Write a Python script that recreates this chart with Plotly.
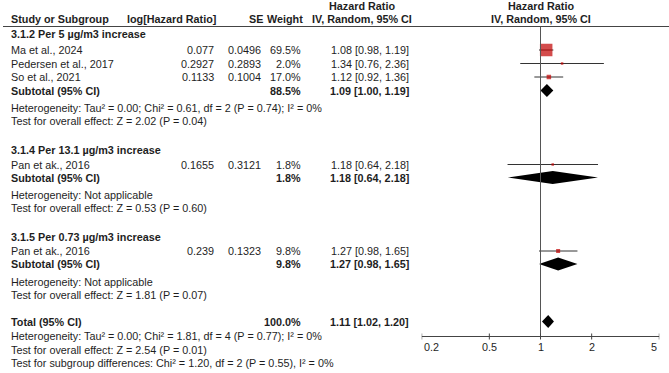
import math
import plotly.graph_objects as go

W, H = 669, 373

# ---------------- data ----------------
group_titles = ["3.1.2 Per 5 µg/m3 increase",
                "3.1.4 Per 13.1 µg/m3 increase",
                "3.1.5 Per 0.73 µg/m3 increase"]
study_names = ["Ma et al., 2024", "Pedersen et al., 2017", "So et al., 2021",
               "Pan et ak., 2016", "Pan et ak., 2016"]
study_group = [0, 0, 0, 1, 2]
log_hr = ["0.077", "0.2927", "0.1133", "0.1655", "0.239"]
se_vals = ["0.0496", "0.2893", "0.1004", "0.3121", "0.1323"]
weights = [69.5, 2.0, 17.0, 1.8, 9.8]
hr = [1.08, 1.34, 1.12, 1.18, 1.27]
hr_lo = [0.98, 0.76, 0.92, 0.64, 0.98]
hr_hi = [1.19, 2.36, 1.36, 2.18, 1.65]

sub_weights = [88.5, 1.8, 9.8]
sub_hr = [1.09, 1.18, 1.27]
sub_lo = [1.00, 0.64, 0.98]
sub_hi = [1.19, 2.18, 1.65]
sub_het = ["Heterogeneity: Tau² = 0.00; Chi² = 0.61, df = 2 (P = 0.74); I² = 0%",
           "Heterogeneity: Not applicable",
           "Heterogeneity: Not applicable"]
sub_test = ["Test for overall effect: Z = 2.02 (P = 0.04)",
            "Test for overall effect: Z = 0.53 (P = 0.60)",
            "Test for overall effect: Z = 1.81 (P = 0.07)"]

total_weight = 100.0
total_hr, total_lo, total_hi = 1.11, 1.02, 1.20
total_notes = ["Heterogeneity: Tau² = 0.00; Chi² = 1.81, df = 4 (P = 0.77); I² = 0%",
               "Test for overall effect: Z = 2.54 (P = 0.01)",
               "Test for subgroup differences: Chi² = 1.20, df = 2 (P = 0.55), I² = 0%"]

tick_vals = [0.2, 0.5, 1, 2, 5]
tick_text = ["0.2", "0.5", "1", "2", "5"]
null_value = 1

# ---------------- layout (pixel rows / columns) ----------------
title_y = [34, 150, 236.5]
study_y = [50, 63.5, 77, 164.5, 251]
sub_y = [90.5, 177.5, 264]
het_y = [108, 195, 281.5]
test_y = [121, 208, 294.5]
total_y = 321.5
notes_y = [336, 349.5, 363]
header1_y, header2_y, header_line_y = 5.5, 19, 26.5
axis_y = 336.5

name_x = 8.5
loghr_r = 216
se_r = 263
w_r = 303
hrtxt_r = 411
hr_head_c = 362
px0, px1 = 421.7, 659.3   # pixel positions of the first and last tick

sq_sizes = [12.5, 2.5, 4.5, 2.5, 4]
diamond_half = 6.5

TXT = "#1e1e1e"
FONT = "Liberation Sans, Arial, sans-serif"
FS = 10.8

fig = go.Figure()
ann = []


def txt(x, y, s, anchor="left", bold=False, xref="paper"):
    xx = x / W if xref == "paper" else x
    ann.append(dict(x=xx, y=y, xref=xref, yref="y", text=f"<b>{s}</b>" if bold else s,
                    showarrow=False, xanchor=anchor, yanchor="middle",
                    font=dict(family=FONT, size=FS, color=TXT)))


def fmt_ci(m, l, h):
    return f"{m:.2f} [{l:.2f}, {h:.2f}]"


# headers
txt(hr_head_c, header1_y, "Hazard Ratio", "center", True)
txt((px0 + px1) / 2, header1_y, "Hazard Ratio", "center", True)
txt(name_x, header2_y, "Study or Subgroup", "left", True)
txt(loghr_r + 2, header2_y, "log[Hazard Ratio]", "right", True)
txt(se_r + 2, header2_y, "SE", "right", True)
txt(w_r + 2, header2_y, "Weight", "right", True)
txt(hr_head_c, header2_y, "IV, Random, 95% CI", "center", True)
txt((px0 + px1) / 2, header2_y, "IV, Random, 95% CI", "center", True)

for g, t in enumerate(group_titles):
    txt(name_x, title_y[g], t, "left", True)

for i, name in enumerate(study_names):
    y = study_y[i]
    txt(name_x, y, name)
    txt(loghr_r, y, log_hr[i], "right")
    txt(se_r, y, se_vals[i], "right")
    txt(w_r, y, f"{weights[i]:.1f}%", "right")
    txt(hrtxt_r, y, fmt_ci(hr[i], hr_lo[i], hr_hi[i]), "right")
    fig.add_trace(go.Scatter(x=[hr_lo[i], hr_hi[i]], y=[y, y], mode="lines",
                             line=dict(color="#333333", width=1), hoverinfo="skip"))

fig.add_trace(go.Scatter(x=hr, y=study_y, mode="markers",
                         marker=dict(symbol="square", color="#C00000", size=sq_sizes,
                                     line=dict(width=0)), hoverinfo="skip"))

for g in range(len(group_titles)):
    y = sub_y[g]
    txt(name_x, y, "Subtotal (95% CI)", "left", True)
    txt(w_r, y, f"{sub_weights[g]:.1f}%", "right", True)
    txt(hrtxt_r, y, fmt_ci(sub_hr[g], sub_lo[g], sub_hi[g]), "right", True)
    txt(name_x, het_y[g], sub_het[g])
    txt(name_x, test_y[g], sub_test[g])
    fig.add_trace(go.Scatter(x=[sub_lo[g], sub_hr[g], sub_hi[g], sub_hr[g], sub_lo[g]],
                             y=[y, y - diamond_half, y, y + diamond_half, y],
                             mode="lines", fill="toself", fillcolor="black",
                             line=dict(width=0, color="black"), hoverinfo="skip"))

txt(name_x, total_y, "Total (95% CI)", "left", True)
txt(w_r, total_y, f"{total_weight:.1f}%", "right", True)
txt(hrtxt_r, total_y, fmt_ci(total_hr, total_lo, total_hi), "right", True)
fig.add_trace(go.Scatter(x=[total_lo, total_hr, total_hi, total_hr, total_lo],
                         y=[total_y, total_y - diamond_half, total_y, total_y + diamond_half, total_y],
                         mode="lines", fill="toself", fillcolor="black",
                         line=dict(width=0, color="black"), hoverinfo="skip"))
for k, s in enumerate(total_notes):
    txt(name_x, notes_y[k], s)

# shapes: header rule, null line, axis (shapes on a log axis take data values)
shapes = [
    dict(type="line", xref="paper", yref="y", x0=3 / W, x1=1, y0=header_line_y, y1=header_line_y,
         line=dict(color="#444444", width=1)),
    dict(type="line", xref="x", yref="y", x0=null_value, x1=null_value, y0=header_line_y, y1=axis_y,
         line=dict(color="#555555", width=1)),
    dict(type="line", xref="x", yref="y", x0=tick_vals[0], x1=tick_vals[-1],
         y0=axis_y, y1=axis_y, line=dict(color="#444444", width=1)),
]
for k, t in enumerate(tick_vals):
    shapes.append(dict(type="line", xref="x", yref="y", x0=t, x1=t, y0=axis_y - 3, y1=axis_y + 3,
                       line=dict(color="#444444", width=1)))
    anchor = "left" if k == 0 else ("right" if k == len(tick_vals) - 1 else "center")
    # annotations on a log axis take log10 positions
    txt(math.log10(t), axis_y + 10, tick_text[k], anchor, False, xref="x")

fig.update_layout(
    width=W, height=H, margin=dict(l=0, r=0, t=0, b=0),
    paper_bgcolor="white", plot_bgcolor="white", showlegend=False,
    xaxis=dict(type="log", range=[math.log10(tick_vals[0]), math.log10(tick_vals[-1])],
               domain=[px0 / W, px1 / W], visible=False),
    yaxis=dict(range=[H, 0], domain=[0, 1], visible=False),
    annotations=ann, shapes=shapes,
)

fig.write_html("out.html", config={"displayModeBar": False},
               post_script="document.body.style.margin='0px';")
